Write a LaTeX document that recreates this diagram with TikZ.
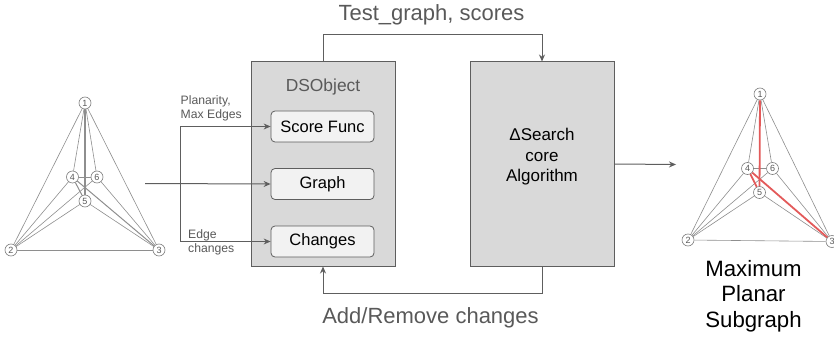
\documentclass[tikz,border=0pt]{standalone}
\usepackage{fontspec}
\setmainfont{Liberation Sans}
\usetikzlibrary{arrows.meta}
\definecolor{linegray}{HTML}{5E5E5E}
\definecolor{boxgray}{HTML}{D9D9D9}
\definecolor{subgray}{HTML}{F2F2F2}
\definecolor{textgray}{HTML}{595959}
\definecolor{edgered}{HTML}{E35A5A}
\begin{document}
\begin{tikzpicture}[x=1pt,y=-1pt,
		bigbox/.style={draw=linegray,fill=boxgray,line width=1pt,minimum width=144pt,minimum height=204pt,inner sep=0pt},
		subbox/.style={draw=linegray,fill=subgray,line width=0.8pt,rounded corners=4pt,minimum width=103pt,minimum height=31pt,inner sep=0pt,font=\fontsize{16.5}{18}\selectfont},
		arr/.style={draw=linegray,line width=1pt,-{Stealth[length=7pt,width=6pt]}},
		vtx/.style={circle,draw=linegray!80,fill=white,line width=0.6pt,minimum size=12pt,inner sep=0pt,text=textgray,font=\fontsize{9}{9}\selectfont},
		edg/.style={draw=linegray!70,line width=0.6pt},
		bigtxt/.style={text=textgray,font=\fontsize{22}{26}\selectfont},
		smalltxt/.style={text=textgray,font=\fontsize{12.2}{14}\selectfont,align=left,inner sep=0pt}]
		\useasboundingbox (0,0) rectangle (834,339);
		% input graph
		\node[vtx] (a1) at (85,103) {1};
		\node[vtx] (a2) at (11,250) {2};
		\node[vtx] (a3) at (159,250) {3};
		\node[vtx] (a4) at (72.5,177) {4};
		\node[vtx] (a6) at (97,177) {6};
		\node[vtx] (a5) at (85,201) {5};
		\draw[edg] (a1) -- (a2);
		\draw[edg] (a1) -- (a3);
		\draw[edg] (a2) -- (a3);
		\draw[edg] (a1) -- (a4);
		\draw[edg] (a1) -- (a6);
		\draw[edg,line width=1.3pt] (a1) -- (a5);
		\draw[edg] (a4) -- (a6);
		\draw[edg,line width=1pt] (a4) -- (a5);
		\draw[edg,line width=1pt] (a4) -- (a3);
		\draw[edg] (a4) -- (a2);
		\draw[edg] (a6) -- (a2);
		\draw[edg] (a6) -- (a3);
		\draw[edg] (a5) -- (a2);
		\draw[edg] (a5) -- (a3);
		% DSObject
		\node[bigbox] (ds) at (323,164) {};
		\node[text=textgray,font=\fontsize{17.4}{20}\selectfont,anchor=base] (dslabel) at (323,91.5) {DSObject};
		\node[subbox] (score) at (322.5,126.5) {Score Func};
		\node[subbox] (graph) at (322.5,184) {Graph};
		\node[subbox] (chg) at (322.5,241.5) {Changes};
		% search algorithm
		\node[bigbox] (alg) at (542,164) {};
		\node[font=\fontsize{17}{20.5}\selectfont,align=center,anchor=base] (algtxt) at (542,182) {ΔSearch\\core\\Algorithm};
		% connectors
		\coordinate (p1) at (180,126.5);
		\coordinate (p2) at (180,241.5);
		\coordinate (gin) at (145,183.5);
		\coordinate (gout) at (676,164.5);
		\draw[draw=linegray,line width=1pt] (p1) -- (p2);
		\draw[arr] (p1) -- (score.west);
		\draw[arr] (p2) -- (chg.west);
		\draw[arr] (gin) -- (graph.west);
		\draw[arr] (alg.east) -- (gout);
		\draw[arr] (ds.north) -- ++(0,-26.5) -| (alg.north);
		\draw[arr] (alg.south) -- ++(0,26.5) -| (ds.south);
		\node[smalltxt,anchor=north west] (plan) at (180.5,95) {Planarity,\\Max Edges};
		\node[smalltxt,anchor=north west] (edch) at (188,229.5) {Edge\\changes};
		\node[bigtxt,anchor=base] (top) at (431.5,21) {Test\_graph, scores};
		\node[bigtxt,anchor=base] (bot) at (430.5,323) {Add/Remove changes};
		% output graph
		\node[vtx] (b1) at (760,94) {1};
		\node[vtx] (b2) at (688,240) {2};
		\node[vtx] (b3) at (832,241.5) {3};
		\node[vtx] (b4) at (747.5,168.5) {4};
		\node[vtx] (b6) at (772.5,168.5) {6};
		\node[vtx] (b5) at (759.5,192.5) {5};
		\draw[edg] (b1) -- (b2);
		\draw[edg] (b1) -- (b3);
		\draw[edg] (b2) -- (b3);
		\draw[edg] (b1) -- (b4);
		\draw[edg] (b1) -- (b6);
		\draw[edg] (b4) -- (b6);
		\draw[edg] (b4) -- (b2);
		\draw[edg] (b6) -- (b2);
		\draw[edg] (b6) -- (b3);
		\draw[edg] (b5) -- (b2);
		\draw[edg] (b5) -- (b3);
		\draw[edgered,line width=1.8pt] (b1) -- (b5);
		\draw[edgered,line width=1.8pt] (b4) -- (b5);
		\draw[edgered,line width=1.8pt] (b4) -- (b3);
		\node[font=\fontsize{22.2}{25.2}\selectfont,align=center,anchor=base] (res) at (753.5,327) {Maximum\\Planar\\Subgraph};
\end{tikzpicture}
\end{document}
